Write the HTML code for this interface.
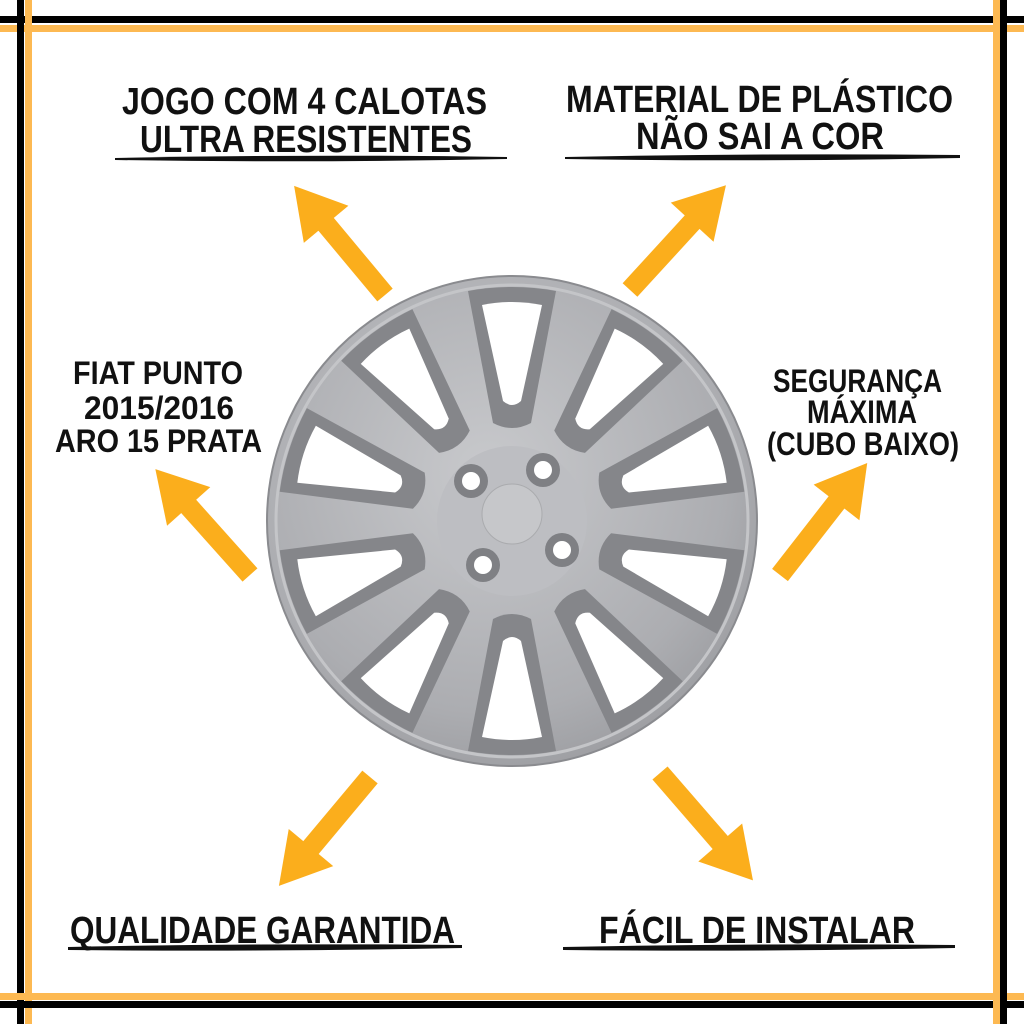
<!DOCTYPE html>
<html><head><meta charset="utf-8"><style>
html,body{margin:0;padding:0;background:#fff;}
svg{display:block}
text{font-family:"Liberation Sans Narrow","Liberation Sans",sans-serif;font-weight:600;fill:#111;}
</style></head><body>
<svg width="1024" height="1024" viewBox="0 0 1024 1024" xmlns="http://www.w3.org/2000/svg">
<rect width="1024" height="1024" fill="#fff"/>
<rect x="0" y="16" width="1024" height="7" fill="#000"/>
<rect x="0" y="25" width="1024" height="7" fill="#fdb952"/>
<rect x="17" y="0" width="7" height="1024" fill="#000"/>
<rect x="25" y="0" width="7" height="1024" fill="#fdb952"/>
<rect x="0" y="993" width="1024" height="7" fill="#fdb952"/>
<rect x="0" y="1001" width="1024" height="7" fill="#000"/>
<rect x="993" y="0" width="7" height="1024" fill="#fdb952"/>
<rect x="1000" y="0" width="7" height="1024" fill="#000"/>

<defs>
<g id="arr"><rect x="0" y="-10" width="100" height="20" fill="#fbae1c"/><polygon points="92,-29 142,0 92,29" fill="#fbae1c"/></g>
</defs>
<use href="#arr" transform="translate(385,295) rotate(-129.8)"/>
<use href="#arr" transform="translate(630,290) rotate(-47.5)"/>
<use href="#arr" transform="translate(250,575) rotate(-131.8)"/>
<use href="#arr" transform="translate(780,575) rotate(-52.1)"/>
<use href="#arr" transform="translate(370,777) rotate(129.9)"/>
<use href="#arr" transform="translate(660,773) rotate(49.1)"/>

<defs>
<radialGradient id="wg" cx="0.45" cy="0.4" r="0.7">
<stop offset="0" stop-color="#c8c9cc"/><stop offset="0.7" stop-color="#acadb1"/><stop offset="1" stop-color="#95969a"/>
</radialGradient>
<g id="hole">
<path d="M-44,-230 Q0,-238 44,-230 L19,-98 Q0,-88 -19,-98 Z" fill="#85868a"/>
<path d="M-30,-216 Q0,-222 30,-216 L9,-120 Q0,-112 -9,-120 Z" fill="#fff"/>
</g>
</defs>
<circle cx="512" cy="521" r="245" fill="url(#wg)" stroke="#8a8b8f" stroke-width="2"/>
<circle cx="512" cy="521" r="236" fill="none" stroke="#c4c5c8" stroke-width="3"/>
<g transform="translate(512,521)">
<use href="#hole" transform="rotate(0)"/>
<use href="#hole" transform="rotate(36)"/>
<use href="#hole" transform="rotate(72)"/>
<use href="#hole" transform="rotate(108)"/>
<use href="#hole" transform="rotate(144)"/>
<use href="#hole" transform="rotate(180)"/>
<use href="#hole" transform="rotate(216)"/>
<use href="#hole" transform="rotate(252)"/>
<use href="#hole" transform="rotate(288)"/>
<use href="#hole" transform="rotate(324)"/>
</g>
<circle cx="512" cy="521" r="75" fill="#bdbec2"/>
<circle cx="512" cy="514" r="30" fill="#c6c7ca" stroke="#aaabae" stroke-width="1"/>
<g fill="#7f8084"><circle cx="471" cy="481" r="17"/><circle cx="543" cy="470" r="17"/><circle cx="562" cy="550" r="17"/><circle cx="483" cy="565" r="17"/></g>
<g fill="#fff"><circle cx="471" cy="481" r="9"/><circle cx="543" cy="470" r="9"/><circle cx="562" cy="550" r="9"/><circle cx="483" cy="565" r="9"/></g>

<text x="122" y="114" font-size="38" textLength="365" lengthAdjust="spacingAndGlyphs">JOGO COM 4 CALOTAS</text>
<text x="140" y="152" font-size="38" textLength="332" lengthAdjust="spacingAndGlyphs">ULTRA RESISTENTES</text>
<path d="M115,158 Q310,154 507,157 L507,159 Q310,163 115,160 Z" fill="#111"/>

<text x="566" y="112" font-size="38" textLength="387" lengthAdjust="spacingAndGlyphs">MATERIAL DE PLÁSTICO</text>
<text x="636" y="149" font-size="38" textLength="248" lengthAdjust="spacingAndGlyphs">NÃO SAI A COR</text>
<path d="M565,157 Q760,153 960,155 L960,158 Q760,162 565,159 Z" fill="#111"/>

<g font-size="32">
<text x="73" y="384" textLength="170" lengthAdjust="spacingAndGlyphs">FIAT PUNTO</text>
<text x="84" y="419" textLength="150" lengthAdjust="spacingAndGlyphs">2015/2016</text>
<text x="55" y="452" textLength="207" lengthAdjust="spacingAndGlyphs">ARO 15 PRATA</text>
<text x="773" y="392" textLength="169" lengthAdjust="spacingAndGlyphs">SEGURANÇA</text>
<text x="807" y="423" textLength="110" lengthAdjust="spacingAndGlyphs">MÁXIMA</text>
<text x="767" y="455" textLength="192" lengthAdjust="spacingAndGlyphs">(CUBO BAIXO)</text>
</g>

<text x="70" y="943" font-size="38" textLength="385" lengthAdjust="spacingAndGlyphs">QUALIDADE GARANTIDA</text>
<path d="M68,947 Q265,943 462,945 L462,948 Q265,952 68,950 Z" fill="#111"/>
<text x="599" y="943" font-size="38" textLength="316" lengthAdjust="spacingAndGlyphs">FÁCIL DE INSTALAR</text>
<path d="M563,947 Q760,943 955,945 L955,948 Q760,952 563,950 Z" fill="#111"/>
</svg>
</body></html>
